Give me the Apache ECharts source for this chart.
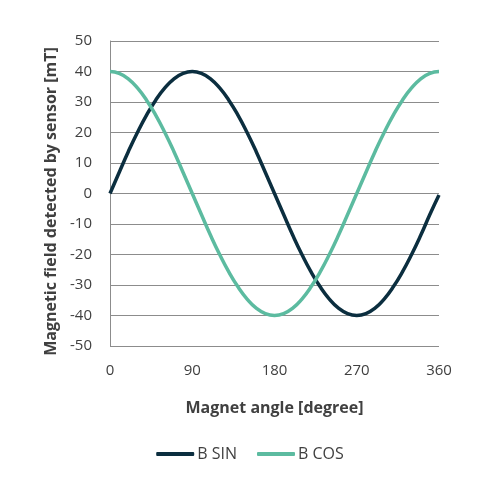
<!doctype html>
<html lang="en">
<head>
    <meta charset="UTF-8">
    <title>Magnet angle</title>
    <style>
        html, body { margin: 0; padding: 0; background: #fff; }
        #main { width: 500px; height: 500px; }
    </style>
</head>
<body>
    <div id="main"></div>
</body>
<script src="https://cdn.jsdelivr.net/npm/echarts@6/dist/echarts.min.js"></script>
<script type="text/javascript">
    // angles in degrees
    const angles = [0, 10, 20, 30, 40, 50, 60, 70, 80, 90, 100, 110, 120, 130, 140, 150, 160, 170, 180,
        190, 200, 210, 220, 230, 240, 250, 260, 270, 280, 290, 300, 310, 320, 330, 340, 350, 360]
    // values [mT]
    const bSin = [0, 6.9, 13.7, 20, 25.7, 30.6, 34.6, 37.6, 39.4, 40, 39.4, 37.6, 34.6, 30.6, 25.7, 20, 13.7, 6.9, 0,
        -6.9, -13.7, -20, -25.7, -30.6, -34.6, -37.6, -39.4, -40, -39.4, -37.6, -34.6, -30.6, -25.7, -20, -13.7, -6.9, -0.5]
    const bCos = [40, 39.4, 37.6, 34.6, 30.6, 25.7, 20, 13.7, 6.9, 0, -6.9, -13.7, -20, -25.7, -30.6, -34.6, -37.6, -39.4, -40,
        -39.4, -37.6, -34.6, -30.6, -25.7, -20, -13.7, -6.9, 0, 6.9, 13.7, 20, 25.7, 30.6, 34.6, 37.6, 39.4, 40]
    const seriesNames = ['B SIN', 'B COS']
    const colors = ['#0b2e3f', '#5cbba0']

    const myChart = echarts.init(document.getElementById('main'))
    const font = 'Open Sans, sans-serif'
    const textColor = '#404040'

    const toPairs = vals => vals.map((v, i) => [angles[i], v])

    const option = {
        animation: false,
        grid: { left: 110, right: 61, top: 41, bottom: 154 },
        legend: {
            data: seriesNames,
            top: 441,
            left: 'center',
            icon: 'roundRect',
            itemWidth: 38,
            itemHeight: 4,
            itemGap: 20,
            textStyle: { color: textColor, fontSize: 16, fontFamily: font, padding: [0, 0, 0, -2] }
        },
        xAxis: {
            type: 'value',
            min: 0,
            max: 360,
            interval: 90,
            name: 'Magnet angle [degree]',
            nameLocation: 'middle',
            nameGap: 54,
            nameTextStyle: { color: textColor, fontSize: 16, fontWeight: 'bold', fontFamily: font },
            axisLine: { show: false },
            axisTick: { show: false },
            splitLine: { show: false },
            axisLabel: { color: textColor, fontSize: 15, fontFamily: font, margin: 17 }
        },
        yAxis: {
            type: 'value',
            min: -50,
            max: 50,
            interval: 10,
            name: 'Magnetic field detected by sensor [mT]',
            nameLocation: 'middle',
            nameGap: 51,
            nameTextStyle: { color: textColor, fontSize: 16, fontWeight: 'bold', fontFamily: font, padding: [0, 16, 0, 0] },
            axisLine: { show: true, lineStyle: { color: '#8c8c8c', width: 1 } },
            axisTick: { show: false },
            splitLine: { show: true, lineStyle: { color: '#8c8c8c', width: 1 } },
            axisLabel: { color: textColor, fontSize: 15, fontFamily: font, margin: 18 }
        },
        series: [
            {
                name: seriesNames[0],
                type: 'line',
                data: toPairs(bSin),
                smooth: true,
                symbol: 'none',
                lineStyle: { color: colors[0], width: 3.5 },
                itemStyle: { color: colors[0] }
            },
            {
                name: seriesNames[1],
                type: 'line',
                data: toPairs(bCos),
                smooth: true,
                symbol: 'none',
                lineStyle: { color: colors[1], width: 3.5 },
                itemStyle: { color: colors[1] }
            }
        ]
    }
    myChart.setOption(option)
</script>
</html>
